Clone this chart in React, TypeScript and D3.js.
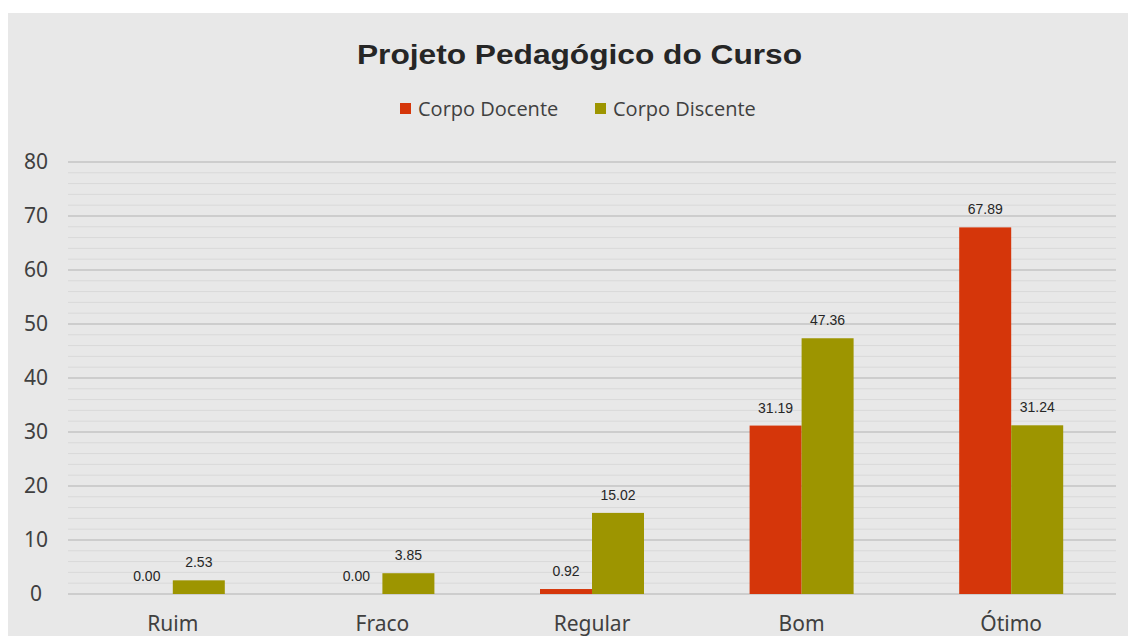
import React from "react";
import * as d3 from "d3";

const categories = ["Ruim", "Fraco", "Regular", "Bom", "Ótimo"];
const seriesNames = ["Corpo Docente", "Corpo Discente"];
const docente = [0.0, 0.0, 0.92, 31.19, 67.89];
const discente = [2.53, 3.85, 15.02, 47.36, 31.24];
const yTicks = [0, 10, 20, 30, 40, 50, 60, 70, 80];
const colors = ["#d5360a", "#9d9500"];

const W = 1128;
const H = 636;

export default function App() {
  const x = d3.scaleBand().domain(categories).range([68, 1116]).paddingInner(0).paddingOuter(0);
  const y = d3.scaleLinear().domain([0, 80]).range([594, 162]);
  const barW = 52;
  const series = [docente, discente];
  const minor = d3.range(0, 81, 2).filter((v) => v % 10 !== 0);

  return (
    <svg width={W} height={H} style={{ position: "absolute", left: 0, top: 0 }}>
      <rect x={0} y={0} width={W} height={H} fill="#ffffff" />
      <rect x={8} y={13} width={W - 8} height={H - 13} fill="#e8e8e8" />
      <text x={357} y={64} textLength={445} lengthAdjust="spacingAndGlyphs" fontFamily="Liberation Sans, Arial" fontWeight="bold" fontSize={27} fill="#262626">
        Projeto Pedagógico do Curso
      </text>
      {/* legenda */}
      {seriesNames.map((s, i) => {
        const lx = i === 0 ? 400 : 595;
        return (
          <g key={s}>
            <rect x={lx} y={103} width={11} height={11} fill={colors[i]} />
            <text x={lx + 18} y={116} fontFamily="Open Sans, Noto Sans" fontSize={20} fill="#404040">{s}</text>
          </g>
        );
      })}
      {minor.map((v) => (
        <line key={"m" + v} x1={68} x2={1116} y1={y(v)} y2={y(v)} stroke="#d9d9d9" strokeWidth={1} />
      ))}
      {yTicks.map((v) => (
        <g key={v}>
          <line x1={68} x2={1116} y1={y(v)} y2={y(v)} stroke="#c4c4c4" strokeWidth={1.3} />
          <text x={36} y={y(v) + 7} textAnchor="middle" fontFamily="Noto Sans, Open Sans" fontSize={21} fill="#404040">{v}</text>
        </g>
      ))}
      {categories.map((c, ci) => {
        const cx = (x(c) as number) + x.bandwidth() / 2;
        return (
          <g key={c}>
            {series.map((vals, si) => {
              const bx = cx - barW + si * barW;
              const v = vals[ci];
              return (
                <g key={si}>
                  {v > 0 && (
                    <rect x={bx} y={y(v)} width={barW} height={y(0) - y(v)} fill={colors[si]} />
                  )}
                  <text x={bx + barW / 2} y={y(v) - 13} textAnchor="middle" fontFamily="Liberation Sans, Arial" fontSize={14} fill="#262626">
                    {v.toFixed(2)}
                  </text>
                </g>
              );
            })}
            <text x={cx} y={631} textAnchor="middle" fontFamily="Noto Sans, Open Sans" fontSize={21} fill="#404040">{c}</text>
          </g>
        );
      })}
    </svg>
  );
}
